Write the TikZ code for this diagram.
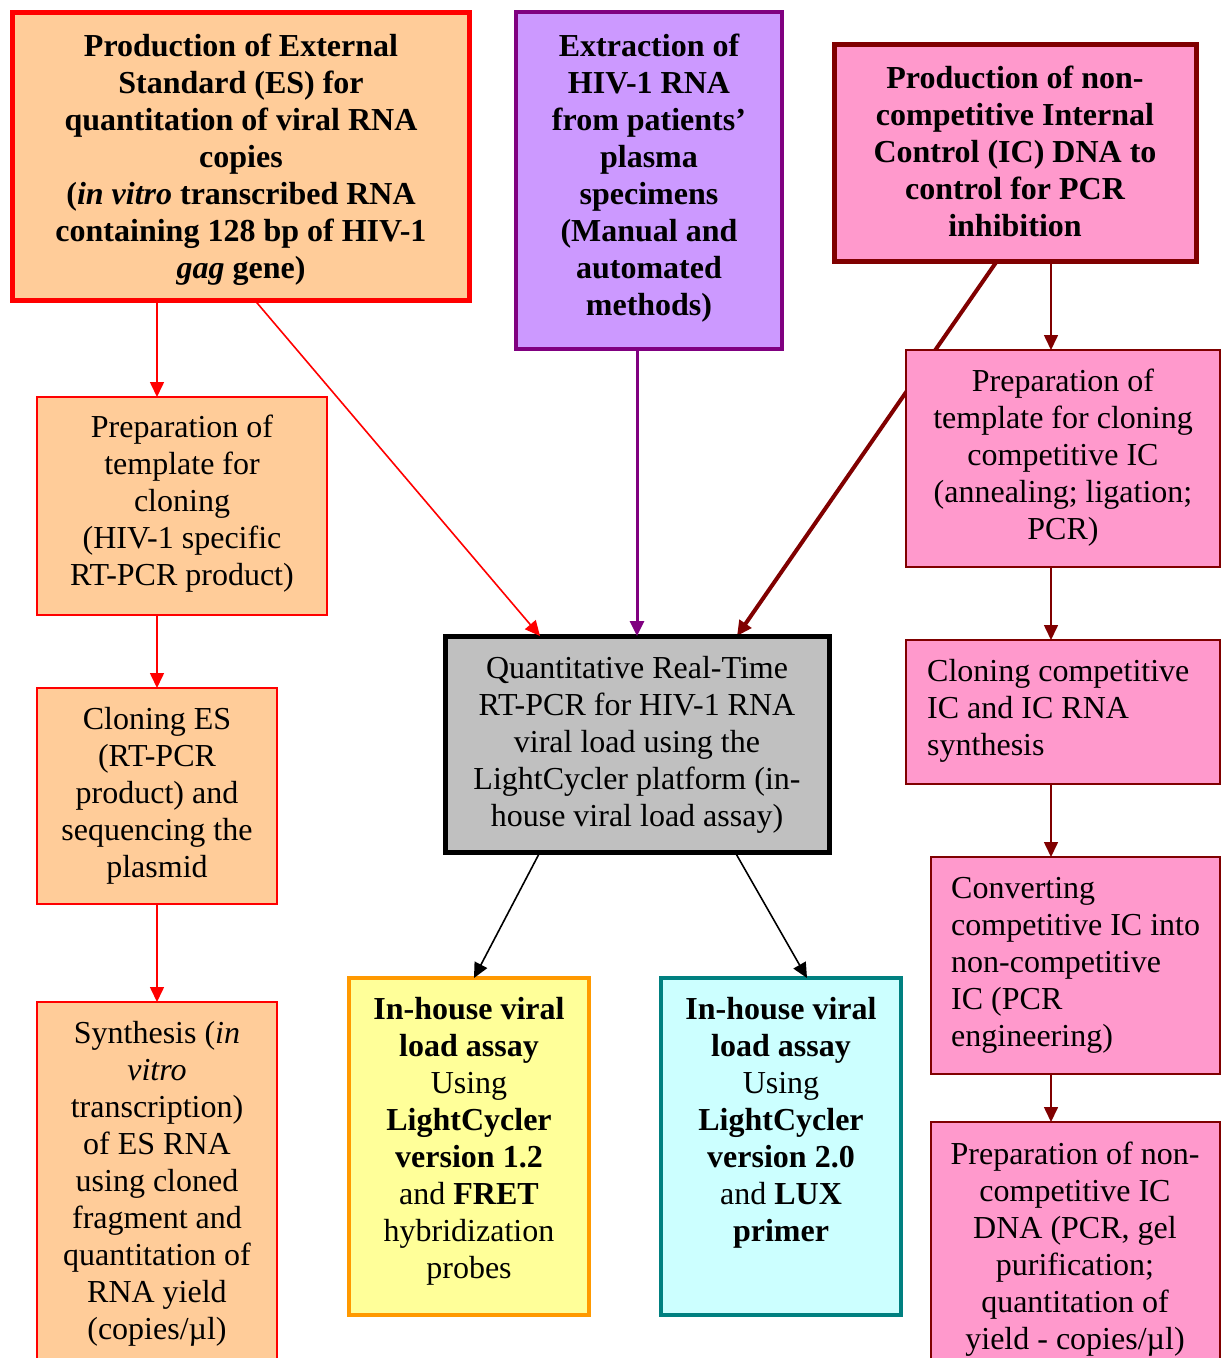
\documentclass[tikz,border=0pt]{standalone}
\usepackage{fontspec}
\setmainfont{Liberation Serif}
\usetikzlibrary{arrows.meta}
\pgfdeclarelayer{background}
\pgfsetlayers{background,main}
\definecolor{peach}{HTML}{FFCC99}
\definecolor{lilac}{HTML}{CC99FF}
\definecolor{pinkf}{HTML}{FF99CC}
\definecolor{dred}{HTML}{800000}
\definecolor{purp}{HTML}{800080}
\definecolor{grayf}{HTML}{C0C0C0}
\definecolor{yelf}{HTML}{FFFF99}
\definecolor{orng}{HTML}{FF9900}
\definecolor{cyanf}{HTML}{CCFFFF}
\definecolor{teal}{HTML}{008080}
\newcommand\fsz{\fontsize{32}{37}\selectfont}
\newcommand\mkbox[6]{\node[#6, minimum width={#4-#2}, minimum height={#5-#3}] (#1) at ({(#2+#4)/2},{(#3+#5)/2}) {};}
\tikzset{
  bx/.style={draw, inner sep=0pt, outer sep=0pt, rectangle},
  thinbx/.style={bx, line width=1.6pt},
  txt/.style={inner sep=0pt, anchor=base, font=\fsz, align=center},
  txtl/.style={inner sep=0pt, anchor=base west, font=\fsz, align=left},
  ar/.style={line width=1.6pt, -{Triangle[length=15pt,width=14pt]}},
}
\begin{document}
\begin{tikzpicture}[x=1pt,y=-1pt]
\useasboundingbox (0,0) rectangle (1224,1358);
\clip (0,0) rectangle (1224,1358);
% boxes
\mkbox{es}{12.5}{12.5}{469.5}{300.5}{bx, line width=5pt, draw=red, fill=peach}
\mkbox{ext}{516}{12}{782}{349}{bx, line width=4pt, draw=purp, fill=lilac}
\mkbox{ictop}{834}{44}{1196}{261}{bx, line width=5pt, draw=dred, fill=pinkf}
\mkbox{lprep}{37}{397}{327}{615}{thinbx, draw=red, fill=peach}
\mkbox{clon}{37}{688}{277}{904}{thinbx, draw=red, fill=peach}
\mkbox{synth}{37}{1002}{277}{1400}{thinbx, draw=red, fill=peach}
\mkbox{ctr}{445}{636}{829}{852}{bx, line width=5pt, draw=black, fill=grayf}
\mkbox{yel}{349}{978}{589}{1315}{bx, line width=4pt, draw=orng, fill=yelf}
\mkbox{cya}{661}{978}{901}{1315}{bx, line width=4pt, draw=teal, fill=cyanf}
\mkbox{rprep}{906}{350}{1220}{567}{thinbx, draw=dred, fill=pinkf}
\mkbox{ccomp}{906}{640}{1220}{784}{thinbx, draw=dred, fill=pinkf}
\mkbox{conv}{931}{857}{1220}{1074}{thinbx, draw=dred, fill=pinkf}
\mkbox{pnc}{931}{1122}{1220}{1400}{thinbx, draw=dred, fill=pinkf}
% texts (anchor = baseline of last line)
\node[txt, font=\fsz\bfseries] (tes) at (241,278) {Production of External\\Standard (ES) for\\quantitation of viral RNA\\copies\\(\textit{in vitro} transcribed RNA\\containing 128 bp of HIV-1\\\textit{gag} gene)};
\node[txt, font=\fsz\bfseries] (text) at (649,315) {Extraction of\\HIV-1 RNA\\from patients’\\plasma\\specimens\\(Manual and\\automated\\methods)};
\node[txt, font=\fsz\bfseries] (tictop) at (1015,236) {Production of non-\\competitive Internal\\Control (IC) DNA to\\control for PCR\\inhibition};
\node[txt] (tlprep) at (182,585) {Preparation of\\template for\\cloning\\(HIV-1 specific\\RT-PCR product)};
\node[txt] (tclon) at (157,877) {Cloning ES\\(RT-PCR\\product) and\\sequencing the\\plasmid};
\node[txt] (tsynth) at (157,1339) {Synthesis (\textit{in}\\\textit{vitro}\\transcription)\\of ES RNA\\using cloned\\fragment and\\quantitation of\\RNA yield\\(copies/µl)};
\node[txt] (tctr) at (637,826) {Quantitative Real-Time\\RT-PCR for HIV-1 RNA\\viral load using the\\LightCycler platform (in-\\house viral load assay)};
\node[txt] (tyel) at (469,1278) {\textbf{In-house viral}\\\textbf{load assay}\\Using\\\textbf{LightCycler}\\\textbf{version 1.2}\\and \textbf{FRET}\\hybridization\\probes};
\node[txt] (tcya) at (781,1241) {\textbf{In-house viral}\\\textbf{load assay}\\Using\\\textbf{LightCycler}\\\textbf{version 2.0}\\and \textbf{LUX}\\\textbf{primer}};
\node[txt] (trprep) at (1063,539) {Preparation of\\template for cloning\\competitive IC\\(annealing; ligation;\\PCR)};
\node[txtl] (tccomp) at (927,755) {Cloning competitive\\IC and IC RNA\\synthesis};
\node[txtl] (tconv) at (951,1046) {Converting\\competitive IC into\\non-competitive\\IC (PCR\\engineering)};
\node[txt] (tpnc) at (1075,1349) {Preparation of non-\\competitive IC\\DNA (PCR, gel\\purification;\\quantitation of\\yield - copies/µl)};
% connectors
\coordinate (colL) at (157,0);
\coordinate (colR) at (1051,0);
\begin{pgfonlayer}{background}
\draw[ar, draw=dred, fill=dred, line width=4pt] ([xshift=-18pt]ictop.south) -- ([xshift=100pt]ctr.north);
\end{pgfonlayer}
\draw[ar, red, fill=red] (es.south -| colL) -- (lprep.north -| colL);
\draw[ar, red, fill=red] ([xshift=14pt]es.south) -- ([xshift=-97pt]ctr.north);
\draw[ar, red, fill=red] (lprep.south -| colL) -- (clon.north -| colL);
\draw[ar, red, fill=red] (clon.south -| colL) -- (synth.north -| colL);
\draw[ar, purp, fill=purp, line width=3pt] (ext.south -| ctr.north) -- (ctr.north);
\draw[ar, dred, fill=dred] (ictop.south -| colR) -- (rprep.north -| colR);
\draw[ar, dred, fill=dred] (rprep.south -| colR) -- (ccomp.north -| colR);
\draw[ar, dred, fill=dred] (ccomp.south -| colR) -- (conv.north -| colR);
\draw[ar, dred, fill=dred] (conv.south -| colR) -- (pnc.north -| colR);
\draw[ar, black] ([xshift=-97pt]ctr.south) -- ([xshift=5pt]yel.north);
\draw[ar, black] ([xshift=98pt]ctr.south) -- ([xshift=26pt]cya.north);
\end{tikzpicture}
\end{document}
